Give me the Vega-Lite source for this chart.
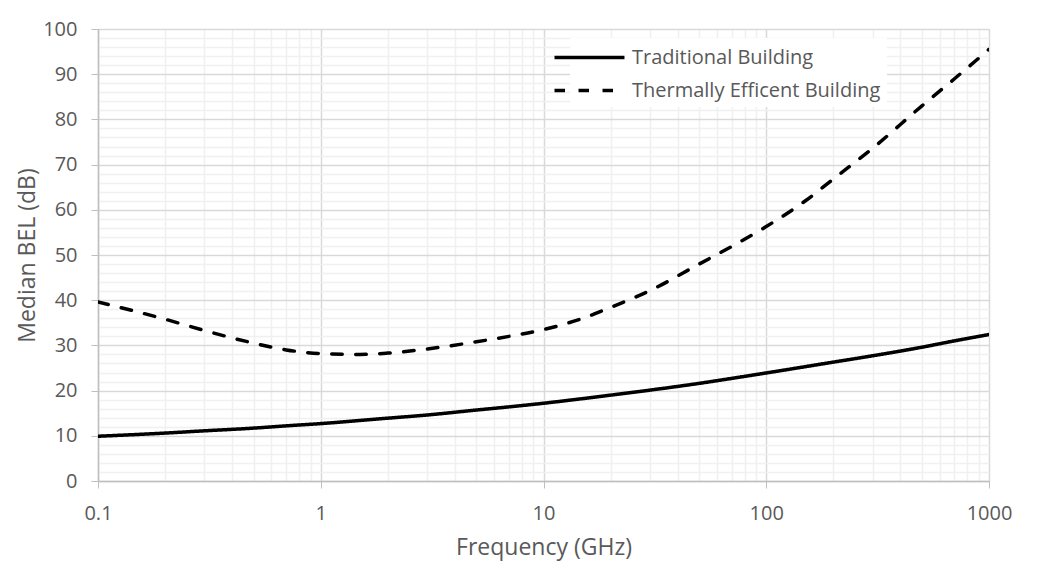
{
  "$schema": "https://vega.github.io/schema/vega-lite/v6.json",
  "width": 891,
  "height": 452,
  "autosize": "none",
  "padding": {"left": 98, "top": 29, "right": 48, "bottom": 100},
  "background": "white",
  "config": {
    "font": "Open Sans",
    "view": {"stroke": null}
  },
  "data": {
    "values": [
      {"f": 0.1, "bel": 9.9, "series": "Traditional Building"},
      {"f": 0.2, "bel": 10.6, "series": "Traditional Building"},
      {"f": 0.3, "bel": 11.1, "series": "Traditional Building"},
      {"f": 0.5, "bel": 11.7, "series": "Traditional Building"},
      {"f": 0.7, "bel": 12.2, "series": "Traditional Building"},
      {"f": 1, "bel": 12.7, "series": "Traditional Building"},
      {"f": 2, "bel": 13.9, "series": "Traditional Building"},
      {"f": 3, "bel": 14.6, "series": "Traditional Building"},
      {"f": 5, "bel": 15.7, "series": "Traditional Building"},
      {"f": 7, "bel": 16.4, "series": "Traditional Building"},
      {"f": 10, "bel": 17.2, "series": "Traditional Building"},
      {"f": 20, "bel": 19.0, "series": "Traditional Building"},
      {"f": 30, "bel": 20.1, "series": "Traditional Building"},
      {"f": 50, "bel": 21.6, "series": "Traditional Building"},
      {"f": 70, "bel": 22.7, "series": "Traditional Building"},
      {"f": 100, "bel": 23.9, "series": "Traditional Building"},
      {"f": 200, "bel": 26.3, "series": "Traditional Building"},
      {"f": 300, "bel": 27.7, "series": "Traditional Building"},
      {"f": 500, "bel": 29.6, "series": "Traditional Building"},
      {"f": 700, "bel": 31.0, "series": "Traditional Building"},
      {"f": 1000, "bel": 32.4, "series": "Traditional Building"},
      {"f": 0.1, "bel": 39.6, "series": "Thermally Efficent Building"},
      {"f": 0.2, "bel": 35.8, "series": "Thermally Efficent Building"},
      {"f": 0.3, "bel": 33.3, "series": "Thermally Efficent Building"},
      {"f": 0.5, "bel": 30.5, "series": "Thermally Efficent Building"},
      {"f": 0.7, "bel": 29.0, "series": "Thermally Efficent Building"},
      {"f": 1, "bel": 28.2, "series": "Thermally Efficent Building"},
      {"f": 1.5, "bel": 28.0, "series": "Thermally Efficent Building"},
      {"f": 2, "bel": 28.3, "series": "Thermally Efficent Building"},
      {"f": 3, "bel": 29.2, "series": "Thermally Efficent Building"},
      {"f": 5, "bel": 30.8, "series": "Thermally Efficent Building"},
      {"f": 7, "bel": 32.0, "series": "Thermally Efficent Building"},
      {"f": 10, "bel": 33.5, "series": "Thermally Efficent Building"},
      {"f": 15, "bel": 36.0, "series": "Thermally Efficent Building"},
      {"f": 20, "bel": 38.4, "series": "Thermally Efficent Building"},
      {"f": 30, "bel": 42.1, "series": "Thermally Efficent Building"},
      {"f": 50, "bel": 48.0, "series": "Thermally Efficent Building"},
      {"f": 70, "bel": 51.9, "series": "Thermally Efficent Building"},
      {"f": 100, "bel": 56.3, "series": "Thermally Efficent Building"},
      {"f": 150, "bel": 62.0, "series": "Thermally Efficent Building"},
      {"f": 200, "bel": 66.8, "series": "Thermally Efficent Building"},
      {"f": 300, "bel": 73.6, "series": "Thermally Efficent Building"},
      {"f": 500, "bel": 83.0, "series": "Thermally Efficent Building"},
      {"f": 700, "bel": 89.0, "series": "Thermally Efficent Building"},
      {"f": 1000, "bel": 95.5, "series": "Thermally Efficent Building"}
    ]
  },
  "mark": {"type": "line", "color": "black", "strokeWidth": 3.5, "interpolate": "monotone", "strokeCap": "round", "clip": true},
  "encoding": {
    "x": {
      "field": "f",
      "type": "quantitative",
      "scale": {"type": "log", "domain": [0.1, 1000], "nice": false},
      "axis": {
        "title": "Frequency (GHz)",
        "values": [0.1,0.2,0.3,0.4,0.5,0.6,0.7,0.8,0.9,1,2,3,4,5,6,7,8,9,10,20,30,40,50,60,70,80,90,100,200,300,400,500,600,700,800,900,1000],
        "format": "~g",
        "labelExpr": "indexof(['0.1','1','10','100','1000'], datum.label) >= 0 ? datum.label : ''",
        "labelOverlap": false,
        "labelFlush": false,
        "labelFontSize": 20,
        "labelColor": "#595959",
        "labelPadding": 15,
        "tickSize": 7,
        "tickColor": {"condition": {"test": "indexof([0.1,1,10,100,1000], datum.value) >= 0", "value": "#bfbfbf"}, "value": "transparent"},
        "domainColor": "#bfbfbf",
        "domainWidth": 1.5,
        "gridColor": {"condition": {"test": "indexof([0.1,1,10,100,1000], datum.value) >= 0", "value": "#d9d9d9"}, "value": "#f0f0f0"},
        "gridWidth": 1.5,
        "titleFontSize": 23,
        "titleFontWeight": "normal",
        "titleColor": "#595959",
        "titlePadding": 13
      }
    },
    "y": {
      "field": "bel",
      "type": "quantitative",
      "scale": {"domain": [0, 100], "nice": false},
      "axis": {
        "title": "Median BEL (dB)",
        "values": [0,2,4,6,8,10,12,14,16,18,20,22,24,26,28,30,32,34,36,38,40,42,44,46,48,50,52,54,56,58,60,62,64,66,68,70,72,74,76,78,80,82,84,86,88,90,92,94,96,98,100],
        "labelExpr": "datum.value % 10 == 0 ? datum.label : ''",
        "labelOverlap": false,
        "labelFlush": false,
        "labelFontSize": 20,
        "labelColor": "#595959",
        "labelPadding": 14,
        "tickSize": 7,
        "tickColor": {"condition": {"test": "datum.value % 10 == 0", "value": "#bfbfbf"}, "value": "transparent"},
        "domainColor": "#bfbfbf",
        "domainWidth": 1.5,
        "gridColor": {"condition": {"test": "datum.value % 10 == 0", "value": "#d9d9d9"}, "value": "#f0f0f0"},
        "gridWidth": 1.5,
        "titleFontSize": 23,
        "titleFontWeight": "normal",
        "titleColor": "#595959",
        "titlePadding": 3
      }
    },
    "strokeDash": {
      "field": "series",
      "type": "nominal",
      "scale": {"domain": ["Traditional Building", "Thermally Efficent Building"], "range": [[1, 0], [10.5, 13.5]]},
      "legend": {
        "title": null,
        "orient": "none",
        "legendX": 472,
        "legendY": 9,
        "fillColor": "white",
        "padding": 6,
        "symbolType": "M-3,0H3",
        "symbolSize": 544,
        "symbolStrokeWidth": 3.5,
        "symbolStrokeColor": "black",
        "labelFontSize": 20,
        "labelLimit": 500,
        "labelColor": "#595959",
        "labelOffset": 29,
        "rowPadding": 9
      }
    }
  }
}
